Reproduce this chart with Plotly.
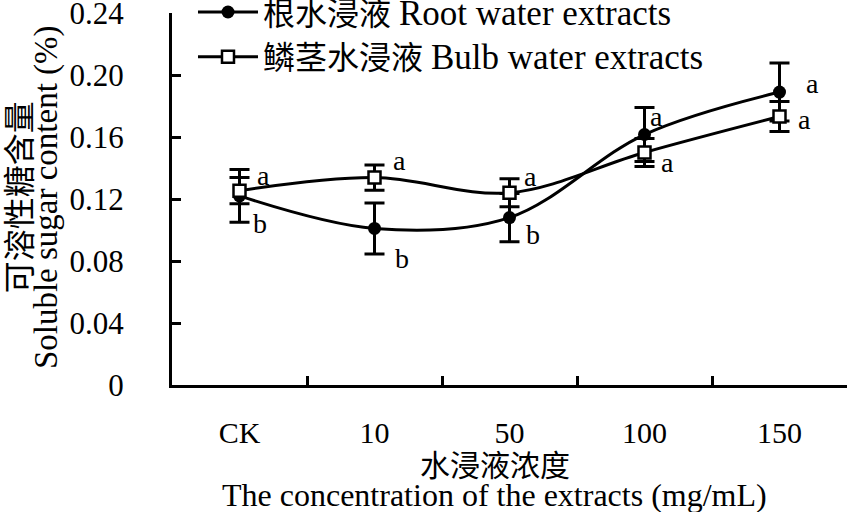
import plotly.graph_objects as go

categories = ["CK", "10", "50", "100", "150"]
root_vals = [0.122, 0.101, 0.108, 0.1616, 0.189]
root_err = [0.017, 0.0165, 0.0155, 0.0174, 0.0187]
bulb_vals = [0.1254, 0.1338, 0.124, 0.150, 0.1732]
bulb_err = [0.0084, 0.0081, 0.009, 0.009, 0.0097]
root_letters = ["b", "b", "b", "a", "a"]
bulb_letters = ["a", "a", "a", "a", "a"]

root_name = ["根水浸液", "Root water extracts"]
bulb_name = ["鳞茎水浸液", "Bulb water extracts"]
y_ticks = [0, 0.04, 0.08, 0.12, 0.16, 0.20, 0.24]
y_tick_text = ["0", "0.04", "0.08", "0.12", "0.16", "0.20", "0.24"]
y_title = ["可溶性糖含量", "Soluble sugar content (%)"]
x_title = ["水浸液浓度", "The concentration of the extracts (mg/mL)"]

SERIF = "Liberation Serif, Times New Roman, Noto Sans CJK SC, serif"


def legend_label(parts):
    return f"{parts[0]} <span style='font-size:35px'>{parts[1]}</span>"


# label anchor: (which end of bar: +1 top, 0 centre, -1 bottom, xshift, yshift)
root_lab_style = [(-1, 20, -1), (-1, 27, -4), (-1, 23, 7), (1, 12, -9), (0, 33, 9)]
bulb_lab_style = [(1, 24, 2), (1, 25, 5), (1, 21, 2), (-1, 23, 4), (0, 25, -3)]

fig = go.Figure()
fig.add_trace(go.Scatter(
    x=categories, y=root_vals, name=legend_label(root_name), mode="lines+markers",
    line=dict(color="black", width=3, shape="spline", smoothing=1.0),
    marker=dict(symbol="circle", size=13, color="black"),
    error_y=dict(type="data", array=root_err, visible=True, color="black", thickness=3, width=10),
))
fig.add_trace(go.Scatter(
    x=categories, y=bulb_vals, name=legend_label(bulb_name), mode="lines+markers",
    line=dict(color="black", width=3, shape="spline", smoothing=1.0),
    marker=dict(symbol="square", size=12, color="white", line=dict(color="black", width=2.5)),
    error_y=dict(type="data", array=bulb_err, visible=True, color="black", thickness=3, width=10),
))

ann = []
for vals, errs, letters, styles in [(root_vals, root_err, root_letters, root_lab_style),
                                    (bulb_vals, bulb_err, bulb_letters, bulb_lab_style)]:
    for i, (v, e, L, (k, xs, ys)) in enumerate(zip(vals, errs, letters, styles)):
        ann.append(dict(x=i, y=v + k * e, text=L, showarrow=False, xshift=xs, yshift=ys,
                        font=dict(family=SERIF, size=28, color="black")))

for txt, xp, fs in zip(y_title, [-0.2252, -0.1867], [32, 33]):
    ann.append(dict(xref="paper", yref="paper", x=xp, xanchor="center", y=0.505, yanchor="middle",
                    text=txt, textangle=-90, showarrow=False,
                    font=dict(family=SERIF, size=fs, color="black")))
for txt, yp, fs in zip(x_title, [-0.217, -0.295], [30, 32]):
    ann.append(dict(xref="paper", yref="paper", x=0.4785, xanchor="center", y=yp, yanchor="middle",
                    text=txt, showarrow=False, font=dict(family=SERIF, size=fs, color="black")))

fig.update_layout(
    width=850, height=512,
    margin=dict(l=172, r=3, t=13, b=127, autoexpand=False),
    paper_bgcolor="white", plot_bgcolor="white",
    showlegend=True,
    legend=dict(x=0.0311, y=1.076, xanchor="left", yanchor="top", bgcolor="rgba(0,0,0,0)",
                font=dict(family=SERIF, size=32, color="black"), itemwidth=60),
    annotations=ann,
    xaxis=dict(type="category", range=[-0.5, 4.5], showline=True, linecolor="black", linewidth=3,
               ticks="inside", ticklen=9, tickwidth=2.5, tickcolor="black", tickson="boundaries",
               showgrid=False, zeroline=False, automargin=False, ticklabeloverflow="allow",
               tickfont=dict(family=SERIF, size=30, color="black"), ticklabelstandoff=19),
    yaxis=dict(range=[0, 0.24], tickvals=y_ticks, ticktext=y_tick_text, showline=True,
               linecolor="black", linewidth=3, ticks="inside", ticklen=9, tickwidth=2.5,
               tickcolor="black", showgrid=False, zeroline=False, automargin=False,
               ticklabeloverflow="allow",
               tickfont=dict(family=SERIF, size=31, color="black"), ticklabelstandoff=39),
)

fig.write_html("out.html", config={"displayModeBar": False},
               post_script="document.body.style.margin='0px';")
